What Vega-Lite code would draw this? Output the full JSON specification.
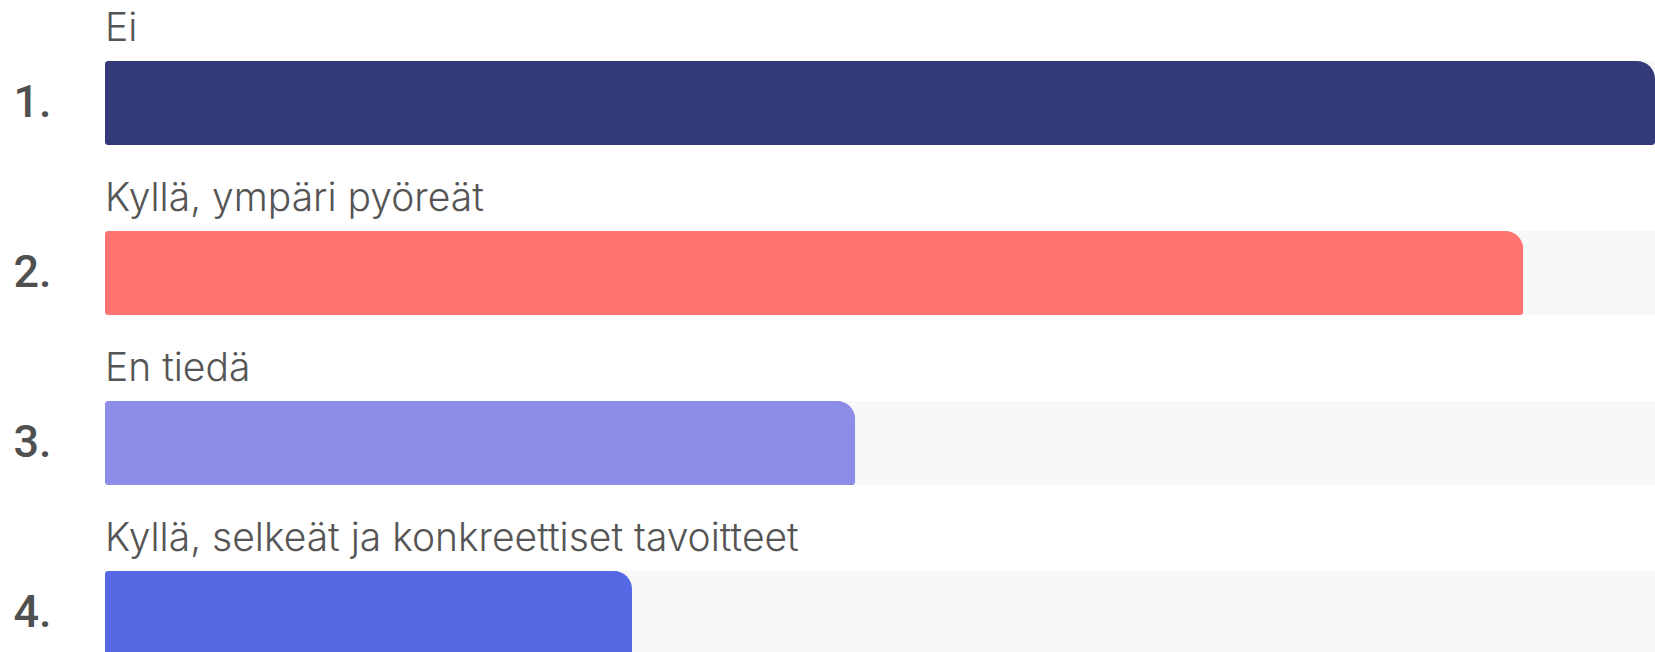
{
  "$schema": "https://vega.github.io/schema/vega-lite/v6.json",
  "autosize": "none",
  "width": 1550,
  "height": 652,
  "padding": {"left": 105, "top": 0, "right": 0, "bottom": 0},
  "background": "#ffffff",
  "config": {"view": {"stroke": null}},
  "data": {
    "values": [
      {"rank": "1", "label": "Ei", "value": 100},
      {"rank": "2", "label": "Kyllä, ympäri pyöreät", "value": 91.5},
      {"rank": "3", "label": "En tiedä", "value": 48.4},
      {"rank": "4", "label": "Kyllä, selkeät ja konkreettiset tavoitteet", "value": 34.0}
    ]
  },
  "encoding": {
    "y": {
      "field": "rank",
      "type": "ordinal",
      "sort": ["1", "2", "3", "4"],
      "scale": {"range": [61, 655], "paddingInner": 0.506, "paddingOuter": 0},
      "axis": {
        "title": null,
        "domain": false,
        "ticks": false,
        "tickSize": 0,
        "labelAlign": "left",
        "labelBaseline": "alphabetic",
        "labelPadding": 92,
        "labelOffset": 14,
        "labelExpr": "datum.value + '.'",
        "labelFont": "Roboto",
        "labelFontWeight": 500,
        "labelFontSize": 45,
        "labelColor": "#505050"
      }
    }
  },
  "layer": [
    {
      "mark": {"type": "bar", "color": "#f8f8f8", "cornerRadius": 0},
      "encoding": {
        "x": {"datum": 100, "type": "quantitative", "scale": {"domain": [0, 100], "nice": false}, "axis": null}
      }
    },
    {
      "mark": {"type": "bar", "cornerRadius": 3, "cornerRadiusTopRight": 18},
      "encoding": {
        "x": {"field": "value", "type": "quantitative", "scale": {"domain": [0, 100], "nice": false}, "axis": null},
        "color": {
          "field": "rank",
          "type": "nominal",
          "scale": {"domain": ["1", "2", "3", "4"], "range": ["#323a7a", "#ff7470", "#8d8ce9", "#5669e5"]},
          "legend": null
        }
      }
    },
    {
      "mark": {"type": "text", "align": "left", "baseline": "alphabetic", "yOffset": -62, "font": "Inter", "fontSize": 39, "fontWeight": 300, "color": "#555555"},
      "encoding": {
        "x": {"datum": 0, "type": "quantitative"},
        "text": {"field": "label"}
      }
    }
  ]
}
